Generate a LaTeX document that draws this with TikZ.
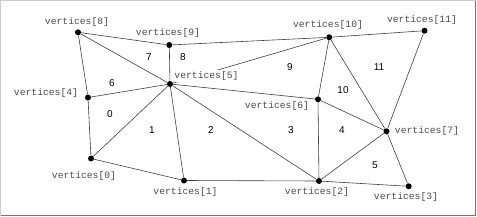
\documentclass[tikz,border=0pt]{standalone}
\usepackage{fontspec}
\setmainfont{Liberation Sans}
\setmonofont{Liberation Mono}
\begin{document}
\begin{tikzpicture}[x=1pt,y=-1pt,
  dot/.style={circle,fill=black,inner sep=0pt,minimum size=6pt},
  edge/.style={draw=black!75,line width=0.6pt},
  lbl/.style={font=\fontsize{9.7}{10}\selectfont\ttfamily,text=black!70,fill=white,inner sep=1pt},
  num/.style={font=\fontsize{10}{11}\selectfont,text=black}]
\useasboundingbox (0,0) rectangle (477,217);
\draw[black!20,line width=0.8pt] (0.5,215.5) -- (0.5,0.5) -- (475.5,0.5);
\draw[black!55,line width=1.6pt] (475.6,0.5) -- (475.6,215.6) -- (0.5,215.6);
% vertices
\node[dot] (v0) at (91,158.5) {};
\node[dot] (v1) at (184,180.5) {};
\node[dot] (v2) at (319,181) {};
\node[dot] (v3) at (408.7,186.3) {};
\node[dot] (v4) at (88,97.5) {};
\node[dot] (v5) at (170,84) {};
\node[dot] (v6) at (318,99.3) {};
\node[dot] (v7) at (386.5,131.3) {};
\node[dot] (v8) at (78,32.3) {};
\node[dot] (v9) at (169.3,45) {};
\node[dot] (v10) at (329.3,37.3) {};
\node[dot] (v11) at (424.5,30.7) {};
% edges
\path[edge] (v8) -- (v9);
\path[edge] (v9) -- (v10);
\path[edge] (v10) -- (v11);
\path[edge] (v8) -- (v4);
\path[edge] (v8) -- (v5);
\path[edge] (v9) -- (v5);
\path[edge] (v4) -- (v5);
\path[edge] (v4) -- (v0);
\path[edge] (v0) -- (v5);
\path[edge] (v0) -- (v1);
\path[edge] (v1) -- (v5);
\path[edge] (v5) -- (v2);
\path[edge] (v5) -- (v6);
\path[edge] (v5) -- (v10);
\path[edge] (v10) -- (v6);
\path[edge] (v10) -- (v7);
\path[edge] (v11) -- (v7);
\path[edge] (v6) -- (v7);
\path[edge] (v6) -- (v2);
\path[edge] (v2) -- (v7);
\path[edge] (v7) -- (v3);
\path[edge] (v2) -- (v3);
\path[edge] (v1) -- (v2);
% triangle numbers
\node[num] (t0) at (110,114) {0};
\node[num] (t1) at (152,130) {1};
\node[num] (t2) at (211,130) {2};
\node[num] (t3) at (291,130) {3};
\node[num] (t4) at (342,130) {4};
\node[num] (t5) at (375,165) {5};
\node[num] (t6) at (112,83) {6};
\node[num] (t7) at (149,57) {7};
\node[num] (t8) at (183,57) {8};
\node[num] (t9) at (290,67) {9};
\node[num] (t10) at (343,90) {10};
\node[num] (t11) at (379,67) {11};
% labels
\node[lbl] (l0) at (84,176) {vertices[0]};
\node[lbl] (l1) at (185.5,192) {vertices[1]};
\node[lbl] (l2) at (317,192) {vertices[2]};
\node[lbl] (l3) at (406,197) {vertices[3]};
\node[lbl] (l4) at (46,93) {vertices[4]};
\node[lbl] (l5) at (206.5,76) {vertices[5]};
\node[lbl] (l6) at (277,106) {vertices[6]};
\node[lbl] (l7) at (427,131) {vertices[7]};
\node[lbl] (l8) at (77,22) {vertices[8]};
\node[lbl] (l9) at (168,33) {vertices[9]};
\node[lbl] (l10) at (328,25) {vertices[10]};
\node[lbl] (l11) at (422,20) {vertices[11]};
\end{tikzpicture}
\end{document}
